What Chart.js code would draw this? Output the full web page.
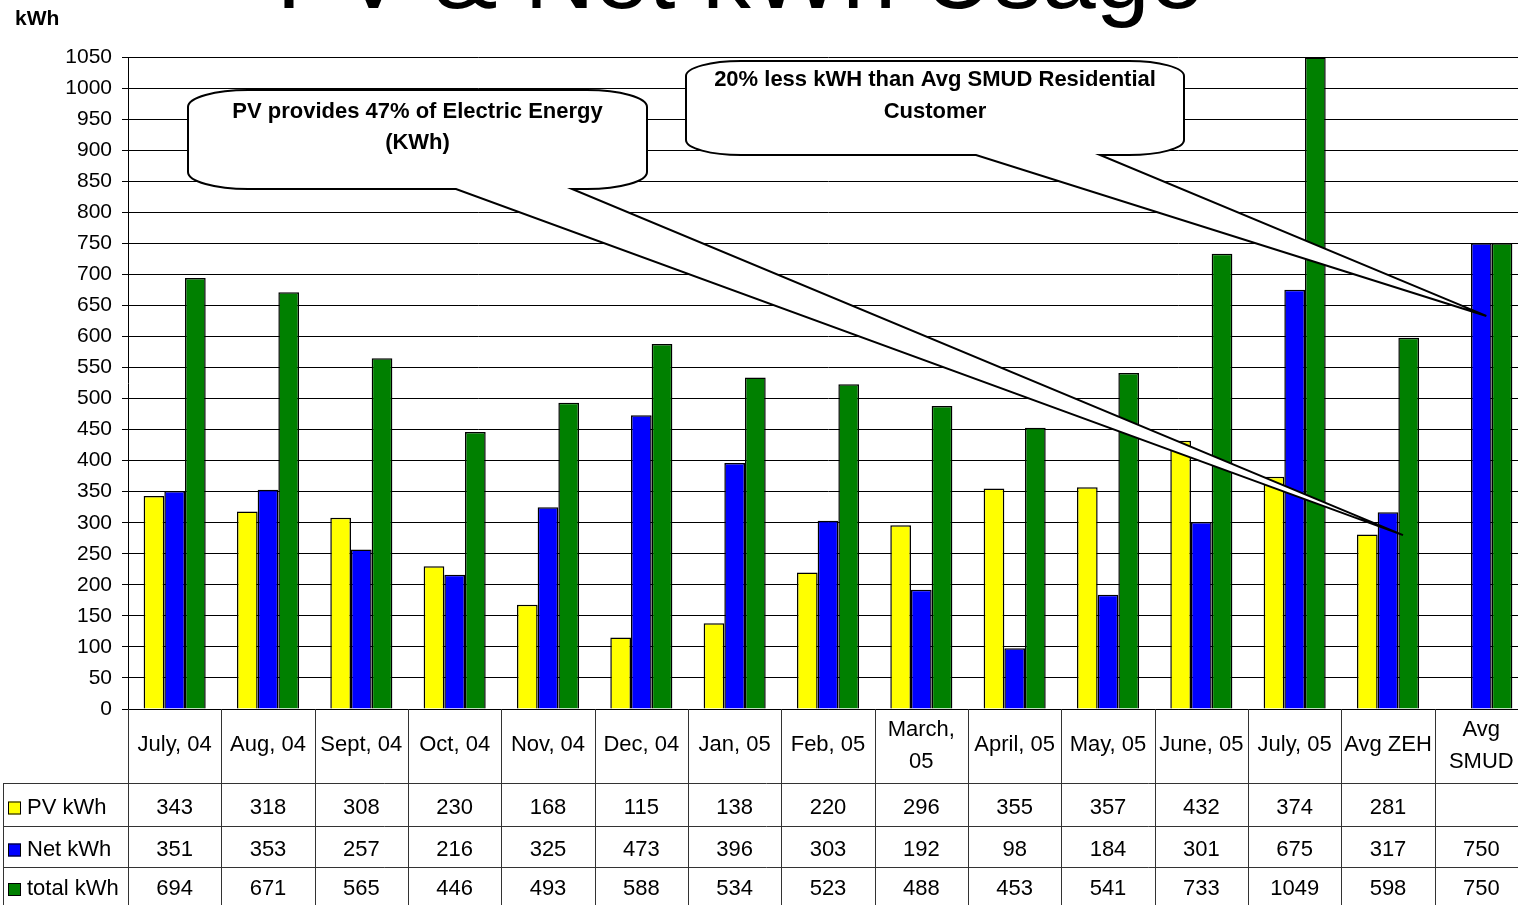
<!DOCTYPE html>
<html>
<head>
<meta charset="utf-8">
<script src="https://cdn.jsdelivr.net/npm/chart.js@4/dist/chart.umd.min.js"></script>
<style>
    body { margin: 0; overflow: hidden; background: #fff; }
    #wrap { position: relative; width: 1530px; height: 905px; }
</style>
</head>
<body>
<div id="wrap"><canvas id="usage-chart"></canvas></div>
<script>
const categories = [
    "July, 04", "Aug, 04", "Sept, 04", "Oct, 04", "Nov, 04", "Dec, 04", "Jan, 05", "Feb, 05",
    ["March,", "05"], "April, 05", "May, 05", "June, 05", "July, 05", "Avg ZEH", ["Avg", "SMUD"],
];
const pvKwh = [343, 318, 308, 230, 168, 115, 138, 220, 296, 355, 357, 432, 374, 281, null];
const netKwh = [351, 353, 257, 216, 325, 473, 396, 303, 192, 98, 184, 301, 675, 317, 750];
const totalKwh = [694, 671, 565, 446, 493, 588, 534, 523, 488, 453, 541, 733, 1049, 598, 750];
const seriesNames = ["PV kWh", "Net kWh", "total kWh"];
const seriesColors = ["#FFFF00", "#0000FF", "#008000"];
const yMax = 1050;
const yStep = 50;

const textFont = '"Liberation Sans", Arial, sans-serif';
const narrowFont = '"Liberation Sans Narrow", "Arial Narrow", "Liberation Sans", sans-serif';

// callout notes; tips point at a category index and value on the chart
const callouts = [
    {
        lines: ["PV provides 47% of Electric Energy", "(KWh)"],
        box: { l: 188, t: 90, r: 647, b: 189, rx: 60, ry: 17 },
        base: [456, 572],
        tip: { index: 13, offset: 15, value: 280 },
        textY: [112, 143],
    },
    {
        lines: ["20% less kWH than Avg SMUD Residential", "Customer"],
        box: { l: 686, t: 61, r: 1184, b: 155, rx: 55, ry: 15 },
        base: [976, 1100],
        tip: { index: 14, offset: 5, value: 633 },
        textY: [80, 112],
    },
];

const tablePlugin = {
    id: "dataTable",
    afterDraw(chart) {
        const ctx = chart.ctx;
        const x = chart.scales.x;
        const area = chart.chartArea;
        const n = categories.length;
        const colW = (area.right - area.left) / n;
        const rows = [783, 826, 867, 905];
        const bottom = 905;

        ctx.save();
        ctx.strokeStyle = "#333";
        ctx.lineWidth = 1;
        ctx.beginPath();
        for (let i = 0; i <= n; i++) {
            const px = Math.round(area.left + i * colW) + 0.5;
            ctx.moveTo(px, area.bottom);
            ctx.lineTo(px, bottom);
        }
        ctx.moveTo(3.5, rows[0]);
        ctx.lineTo(3.5, bottom);
        for (let r = 0; r < 3; r++) {
            ctx.moveTo(3, rows[r] + 0.5);
            ctx.lineTo(chart.width, rows[r] + 0.5);
        }
        ctx.stroke();

        ctx.fillStyle = "#000";
        ctx.font = "22px " + textFont;
        ctx.textAlign = "center";
        ctx.textBaseline = "middle";
        categories.forEach((label, i) => {
            const cx = x.getPixelForValue(i);
            if (Array.isArray(label)) {
                ctx.fillText(label[0], cx, 730);
                ctx.fillText(label[1], cx, 762);
            } else {
                ctx.fillText(label, cx, 745);
            }
        });

        chart.data.datasets.forEach((ds, r) => {
            const cy = (rows[r] + rows[r + 1]) / 2 + 3;
            ds.data.forEach((v, i) => {
                if (v !== null) {
                    ctx.fillText(String(v), x.getPixelForValue(i), cy);
                }
            });
            ctx.fillStyle = ds.backgroundColor;
            ctx.fillRect(8, cy - 6, 13, 13);
            ctx.strokeStyle = "#000";
            ctx.strokeRect(8.5, cy - 5.5, 12, 12);
            ctx.fillStyle = "#000";
            ctx.textAlign = "left";
            ctx.fillText(ds.label, 27, cy);
            ctx.textAlign = "center";
        });
        ctx.restore();
    },
};

const notesPlugin = {
    id: "notes",
    afterDatasetsDraw(chart) {
        const ctx = chart.ctx;
        const x = chart.scales.x;
        const y = chart.scales.y;
        ctx.save();

        // title, mostly cut off at the top like the original
        ctx.fillStyle = "#000";
        ctx.font = "97px " + textFont;
        ctx.textAlign = "center";
        ctx.textBaseline = "alphabetic";
        ctx.fillText("PV & Net kWh Usage", 740, 8);

        ctx.font = "bold 21px " + textFont;
        ctx.textAlign = "left";
        ctx.textBaseline = "middle";
        ctx.fillText("kWh", 15, 19);

        callouts.forEach((c) => {
            const b = c.box;
            const tx = x.getPixelForValue(c.tip.index) + c.tip.offset;
            const ty = y.getPixelForValue(c.tip.value);
            ctx.beginPath();
            ctx.moveTo(b.l + b.rx, b.t);
            ctx.lineTo(b.r - b.rx, b.t);
            ctx.ellipse(b.r - b.rx, b.t + b.ry, b.rx, b.ry, 0, -Math.PI / 2, 0);
            ctx.lineTo(b.r, b.b - b.ry);
            ctx.ellipse(b.r - b.rx, b.b - b.ry, b.rx, b.ry, 0, 0, Math.PI / 2);
            ctx.lineTo(c.base[1], b.b);
            ctx.lineTo(tx, ty);
            ctx.lineTo(c.base[0], b.b);
            ctx.lineTo(b.l + b.rx, b.b);
            ctx.ellipse(b.l + b.rx, b.b - b.ry, b.rx, b.ry, 0, Math.PI / 2, Math.PI);
            ctx.lineTo(b.l, b.t + b.ry);
            ctx.ellipse(b.l + b.rx, b.t + b.ry, b.rx, b.ry, 0, Math.PI, Math.PI * 1.5);
            ctx.closePath();
            ctx.fillStyle = "#fff";
            ctx.fill();
            ctx.strokeStyle = "#000";
            ctx.lineWidth = 2;
            ctx.stroke();

            ctx.fillStyle = "#000";
            ctx.font = "bold 22px " + narrowFont;
            ctx.textAlign = "center";
            const cx = (b.l + b.r) / 2;
            c.lines.forEach((line, k) => {
                ctx.fillText(line, cx, c.textY[k]);
            });
        });
        ctx.restore();
    },
};

const config = {
    type: "bar",
    data: {
        labels: categories,
        datasets: [pvKwh, netKwh, totalKwh].map((values, i) => ({
            label: seriesNames[i],
            data: values,
            backgroundColor: seriesColors[i],
            borderColor: "#000",
            borderWidth: 1.5,
            borderSkipped: "bottom",
            categoryPercentage: 0.665,
            barPercentage: 1.0,
        })),
    },
    options: {
        animation: false,
        responsive: true,
        maintainAspectRatio: false,
        layout: {
            padding: { left: 0, top: 57, right: 2, bottom: 196 },
        },
        scales: {
            x: {
                ticks: { display: false },
                grid: { display: false, drawTicks: false },
                border: { display: true, color: "#000", width: 1 },
                afterFit(scale) {
                    scale.height = 0;
                },
            },
            y: {
                min: 0,
                max: yMax,
                ticks: {
                    stepSize: yStep,
                    color: "#000",
                    padding: 10,
                    font: { size: 21, family: textFont },
                    callback: function (val) {
                        return String(val);
                    },
                },
                grid: {
                    color: "#000",
                    lineWidth: 1,
                    tickLength: 6,
                    tickColor: "#000",
                },
                border: { display: true, color: "#000", width: 1 },
                afterFit(scale) {
                    scale.width = 128;
                },
            },
        },
        plugins: {
            legend: { display: false },
            tooltip: { enabled: false },
        },
    },
    plugins: [notesPlugin, tablePlugin],
};

window.addEventListener("DOMContentLoaded", () => {
    new Chart(document.getElementById("usage-chart"), config);
});
</script>
</body>
</html>
